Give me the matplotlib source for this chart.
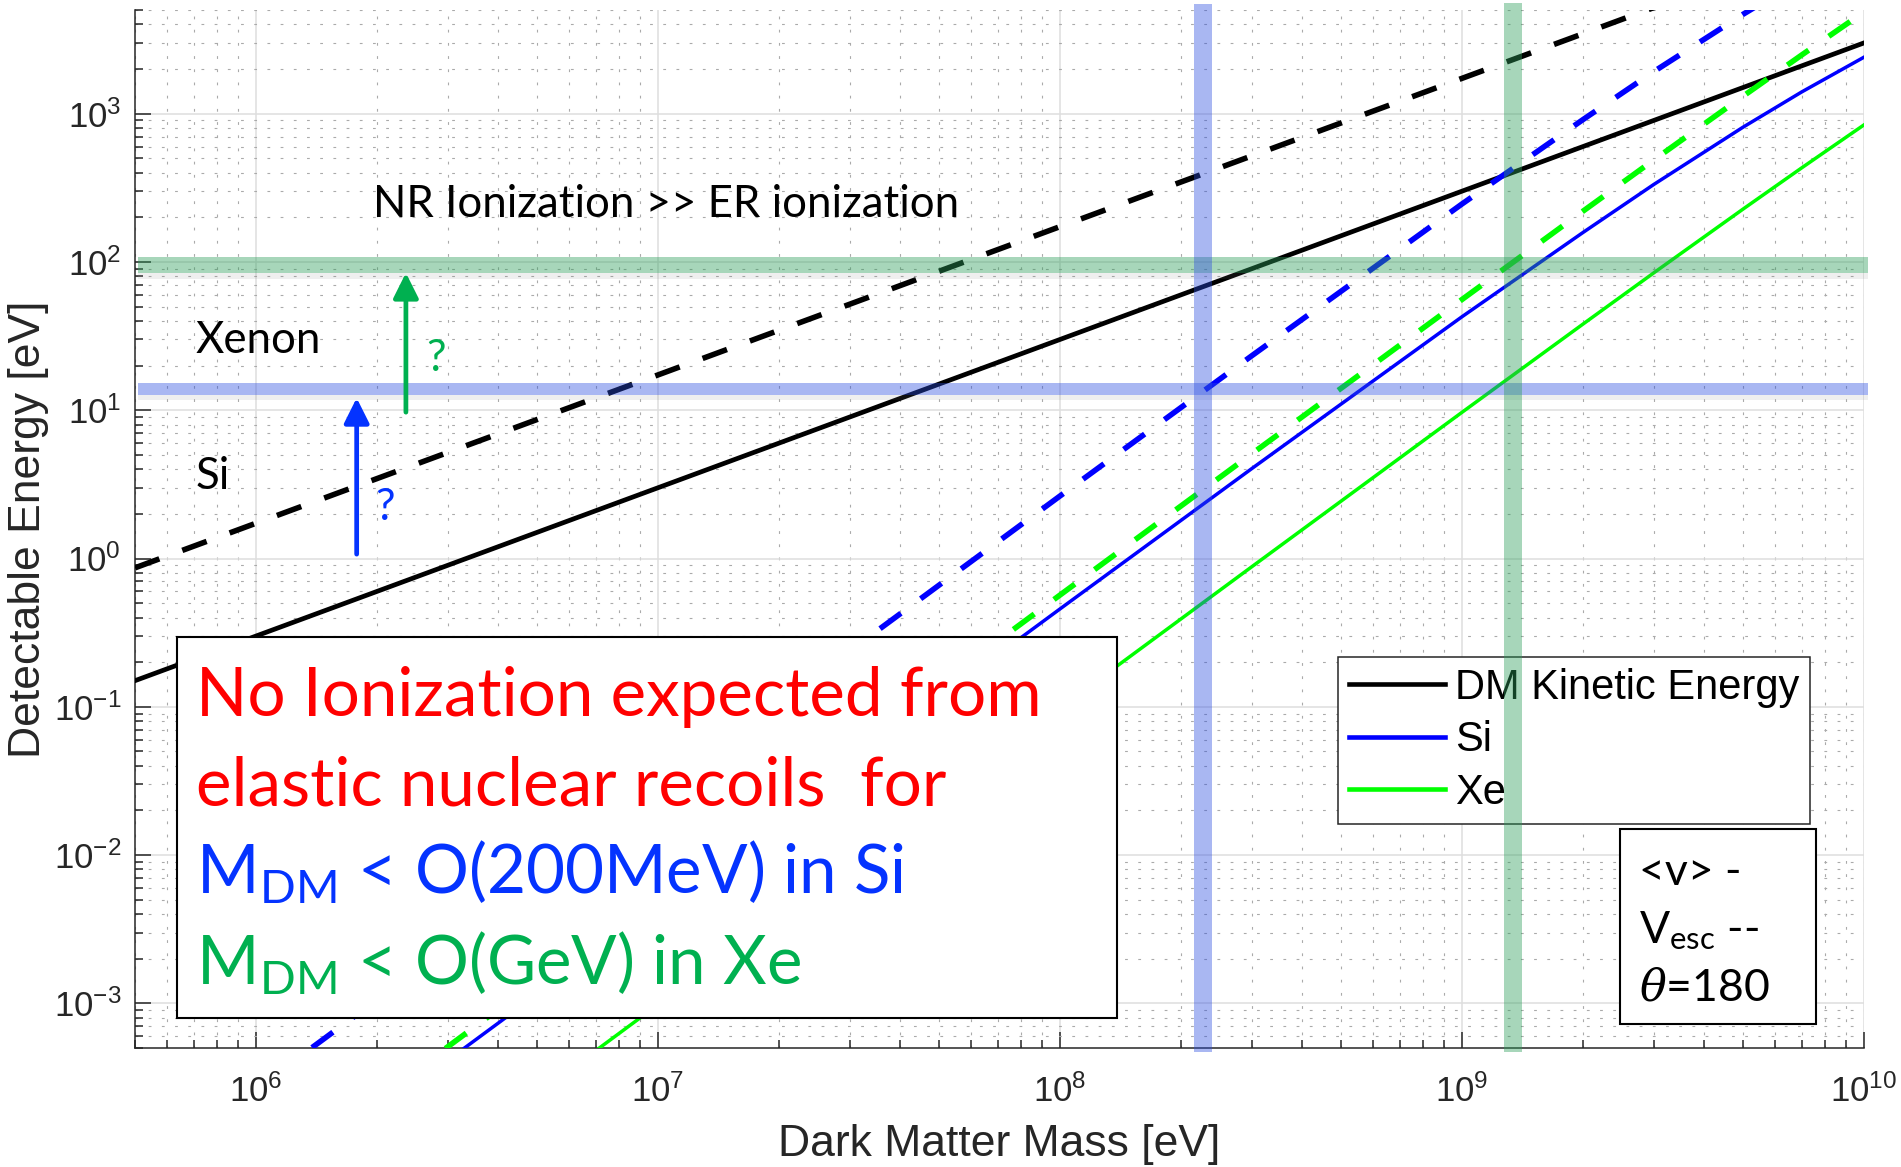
import matplotlib
matplotlib.use("Agg")
import matplotlib.pyplot as plt
from matplotlib.patches import Rectangle
from matplotlib.ticker import FixedLocator, LogLocator, NullFormatter

plt.rcParams["font.family"] = ["Liberation Sans", "DejaVu Sans"]
plt.rcParams["mathtext.fontset"] = "custom"
plt.rcParams["mathtext.rm"] = "Lato"
plt.rcParams["mathtext.it"] = "DejaVu Serif:italic"
plt.rcParams["lines.scale_dashes"] = False

# dark matter mass [eV]
mass = [5e5, 1e6, 3e6, 1e7, 3e7, 1e8, 3e8, 1e9, 2e9, 3e9, 5e9, 7e9, 1e10]

# DM kinetic energy [eV]: <v> (solid) and v_esc (dashed)
ke_mean = [0.15, 0.30, 0.90, 3.0, 9.0, 30, 90, 300, 600, 900, 1500, 2100, 3000]
ke_esc = [0.865, 1.73, 5.19, 17.3, 51.9, 173, 519, 1730, 3460, 5190, 8650, 12110, 17300]

# max nuclear recoil energy [eV] at theta=180, Si and Xe
si_mean = [1.12e-5, 4.6e-5, 4.13e-4, 4.59e-3, 0.0413, 0.457, 4.04, 42.7, 158, 333, 810,
           1401, 2403]
si_esc = [6.5e-5, 2.65e-4, 2.38e-3, 0.0265, 0.238, 2.64, 23.3, 246, 912, 1921, 4674,
          8084, 13865]
xe_mean = [2.44e-6, 9.8e-6, 8.8e-5, 9.8e-4, 8.8e-3, 0.098, 0.88, 9.68, 38.1, 84.4, 227,
           431, 840]
xe_esc = [1.4e-5, 5.7e-5, 5.1e-4, 5.7e-3, 0.051, 0.567, 5.08, 55.8, 220, 487, 1310,
          2487, 4847]

# axis decades
x_decades = [1e6, 1e7, 1e8, 1e9, 1e10]
y_decades = [1e-3, 1e-2, 1e-1, 1e0, 1e1, 1e2, 1e3]

# ionization thresholds [eV] and matching mass limits [eV]
si_threshold = (12.7, 15.3)
xe_threshold = (84.4, 108.2)
si_mass_limit = (2.15e8, 2.39e8)
xe_mass_limit = (1.27e9, 1.41e9)

# arrows: (mass, from energy, to energy)
si_arrow = (1.78e6, 1.07, 12.1)
xe_arrow = (2.36e6, 9.7, 84.4)

GRAY = "#262626"
BLUE = "#0000ff"
GREEN = "#00ff00"
TXT_BLUE = "#0433ff"
TXT_GREEN = "#00b050"
BAND_BLUE = "#2a4ce0"
BAND_GREEN = "#2e9e5b"
CALIBRI = ["Lato", "DejaVu Sans"]

fig = plt.figure(figsize=(19.01, 11.67), dpi=100)
ax = fig.add_axes([0.07101, 0.10197, 0.90952, 0.88946])

dash = (0, (18.7, 17.6))
ax.plot(mass, ke_mean, color="black", lw=3.4, label="DM Kinetic Energy", zorder=3)
ax.plot(mass, si_mean, color=BLUE, lw=2.5, label="Si", zorder=3)
ax.plot(mass, xe_mean, color=GREEN, lw=2.5, label="Xe", zorder=3)
ax.plot(mass, ke_esc, color="black", lw=4.0, ls=dash, dash_capstyle="butt", zorder=3)
ax.plot(mass, si_esc, color=BLUE, lw=4.0, ls=dash, dash_capstyle="butt", zorder=3)
ax.plot(mass, xe_esc, color=GREEN, lw=4.0, ls=dash, dash_capstyle="butt", zorder=3)

ax.set_xscale("log")
ax.set_yscale("log")
ax.set_xlim(5e5, 1e10)
ax.set_ylim(5e-4, 5e3)
ax.xaxis.set_major_locator(FixedLocator(x_decades))
ax.yaxis.set_major_locator(FixedLocator(y_decades))
for axis in (ax.xaxis, ax.yaxis):
    axis.set_minor_locator(LogLocator(base=10, subs=range(2, 10), numticks=20))
    axis.set_minor_formatter(NullFormatter())

ax.set_axisbelow(True)
ax.grid(which="major", color="#dedede", lw=1.1)
ax.grid(which="minor", color="#aaaaaa", lw=0.8, ls=(0, (2, 7.5)))
for side in ("top", "right"):
    ax.spines[side].set_visible(False)
for side in ("left", "bottom"):
    ax.spines[side].set_color(GRAY)
    ax.spines[side].set_linewidth(1.1)
ax.tick_params(which="both", direction="in", top=False, right=False,
               color=GRAY, width=1.1, labelcolor=GRAY, labelsize=25)
ax.tick_params(which="major", length=11.5)
ax.tick_params(which="minor", length=5.5)
ax.tick_params(axis="x", pad=19)
ax.tick_params(axis="y", pad=10)

ax.set_xlabel("Dark Matter Mass [eV]", fontsize=32, color=GRAY)
ax.set_ylabel("Detectable Energy [eV]", fontsize=32, color=GRAY)
ax.xaxis.set_label_coords(0.5, -0.0732)
ax.yaxis.set_label_coords(-0.050, 0.5)

leg = ax.legend(loc="upper left", bbox_to_anchor=(0.6958, 0.3767), borderaxespad=0,
                fontsize=30, fancybox=False, framealpha=1, edgecolor=GRAY,
                handlelength=2.3, handletextpad=0.25, labelspacing=0.3, borderpad=0.26)
leg.set_zorder(5)
leg.get_frame().set_linewidth(1.1)
for handle in leg.legend_handles:
    handle.set_linewidth(3.3)

# threshold bands with a faint shadow underneath
band = dict(lw=0, zorder=6, clip_on=False)
ax.axhspan(76.9, xe_threshold[0], xmin=0.002, xmax=1.0025, color="gray", alpha=0.12, **band)
ax.axhspan(11.7, si_threshold[0], xmin=0.002, xmax=1.0025, color="gray", alpha=0.12, **band)
ax.axhspan(*xe_threshold, xmin=0.002, xmax=1.0025, color=BAND_GREEN, alpha=0.42, **band)
ax.axhspan(*si_threshold, xmin=0.002, xmax=1.0025, color=BAND_BLUE, alpha=0.40, **band)
ax.axvspan(*si_mass_limit, ymin=-0.004, ymax=1.006, color=BAND_BLUE, alpha=0.40, **band)
ax.axvspan(*xe_mass_limit, ymin=-0.004, ymax=1.0067, color=BAND_GREEN, alpha=0.42, **band)

for (m, e0, e1), c in ((si_arrow, TXT_BLUE), (xe_arrow, TXT_GREEN)):
    ax.annotate("", xy=(m, e1), xytext=(m, e0), zorder=7,
                arrowprops=dict(arrowstyle="-|>", mutation_scale=38, lw=3.4, color=c,
                                shrinkA=0, shrinkB=0))

lab = dict(transform=ax.transAxes, fontsize=31.5, family=CALIBRI, va="baseline", zorder=8)
ax.text(0.1377, 0.8006, "NR Ionization >> ER ionization", color="black", **lab)
ax.text(0.0353, 0.6696, "Xenon", color="black", **lab)
ax.text(0.0353, 0.5385, "Si", color="black", **lab)
ax.text(0.1741, 0.6522, "?", color=TXT_GREEN, ha="center", **lab)
ax.text(0.1446, 0.5087, "?", color=TXT_BLUE, ha="center", **lab)

# conclusion box
ax.add_patch(Rectangle((0.0243, 0.0289), 0.5436, 0.3671, transform=ax.transAxes,
                       facecolor="white", edgecolor="black", lw=1.5, zorder=5))
big = dict(transform=ax.transAxes, fontsize=48.5, family=CALIBRI, va="baseline", zorder=8)
ax.text(0.0355, 0.3198, "No Ionization expected from", color="red", **big)
ax.text(0.0355, 0.2341, "elastic nuclear recoils  for", color="red", **big)
ax.text(0.0355, 0.1493, r"M$_{\mathrm{DM}}$ < O(200MeV) in Si", color=TXT_BLUE, **big)
ax.text(0.0355, 0.0607, r"M$_{\mathrm{DM}}$ < O(GeV) in Xe", color=TXT_GREEN, **big)

# line style key
ax.add_patch(Rectangle((0.8589, 0.0231), 0.1133, 0.1879, transform=ax.transAxes,
                       facecolor="white", edgecolor="black", lw=1.5, zorder=5))
key = dict(transform=ax.transAxes, fontsize=32, family=CALIBRI, va="baseline",
           color="black", zorder=8)
ax.text(0.8699, 0.1570, "<v> -", **key)
ax.text(0.8699, 0.1012, r"V$_{\mathrm{esc}}$ --", **key)
ax.text(0.8699, 0.0453, r"$\theta$=180", **key)

fig.savefig("out.png", dpi=100)
